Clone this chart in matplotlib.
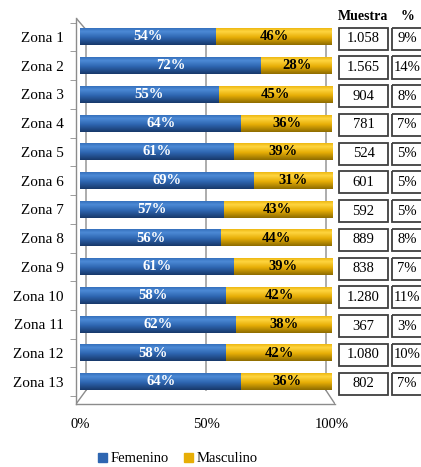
import numpy as np
import matplotlib
matplotlib.use("Agg")
import matplotlib.pyplot as plt
from matplotlib.colors import LinearSegmentedColormap
from matplotlib.patches import Rectangle, Patch
import matplotlib.transforms as mtransforms

plt.rcParams['font.family'] = ['Liberation Serif', 'DejaVu Serif']

# datos
zonas = ['Zona %d' % i for i in range(1, 14)]
femenino = [54, 72, 55, 64, 61, 69, 57, 56, 61, 58, 62, 58, 64]
masculino = [46, 28, 45, 36, 39, 31, 43, 44, 39, 42, 38, 42, 36]
muestra = ['1.058', '1.565', '904', '781', '524', '601', '592', '889', '838',
           '1.280', '367', '1.080', '802']
porcentaje = ['9%', '14%', '8%', '7%', '5%', '5%', '5%', '8%', '7%', '11%', '3%', '10%', '7%']
ticks = [0, 50, 100]

fig = plt.figure(figsize=(4.21, 4.67), dpi=100)
ax = fig.add_axes([76 / 421, (467 - 404) / 467, 259 / 421, 386 / 467])

n = len(zonas)
y = np.arange(1, n + 1)
alto = 0.58

cm_azul = LinearSegmentedColormap.from_list('azul', [(0, '#3670BC'), (0.2, '#4C8AD6'), (0.55, '#2E66B1'), (1, '#17386A')])
cm_oro = LinearSegmentedColormap.from_list('oro', [(0, '#EDB812'), (0.2, '#FFD53F'), (0.55, '#E7AE06'), (1, '#8E6C00')])
grad = np.linspace(0, 1, 64).reshape(-1, 1)

# fondo 3D: lineas de la pared de atras
def atras(t):
    return 50 + (t - 50) * 0.95

y_top, y_fondo = 0.76, 13.28
for t in ticks:
    ax.plot([atras(t), atras(t)], [y_top, y_fondo], color='#A6A6A6', lw=1.3, zorder=1)
ax.plot([-1.6, atras(0)], [0.34, y_top], color='#8C8C8C', lw=1.0, zorder=1)
ax.plot([-1.6, atras(0)], [13.77, y_fondo], color='#8C8C8C', lw=1.0, zorder=1)
ax.plot([101.2, atras(100)], [13.77, y_fondo], color='#8C8C8C', lw=1.0, zorder=1)

for i in range(n):
    yc = y[i]
    # femenino
    ax.imshow(grad, cmap=cm_azul, aspect='auto', interpolation='bilinear',
              extent=(0, femenino[i], yc + alto / 2, yc - alto / 2), zorder=3)
    # masculino
    ax.imshow(grad, cmap=cm_oro, aspect='auto', interpolation='bilinear',
              extent=(femenino[i], femenino[i] + masculino[i], yc + alto / 2, yc - alto / 2), zorder=3)
    ax.text(femenino[i] / 2, yc, '%d%%' % femenino[i], ha='center', va='center',
            color='white', fontsize=10.5, fontweight='bold', zorder=4)
    ax.text(femenino[i] + masculino[i] / 2, yc, '%d%%' % masculino[i], ha='center', va='center',
            color='black', fontsize=10.5, fontweight='bold', zorder=4)

ax.set_xlim(-1.6, 101.2)
ax.set_ylim(13.77, 0.34)
ax.set_yticks(y)
ax.set_yticklabels(zonas, fontsize=11)
ax.set_yticks(np.arange(0.5, n + 1, 1), minor=True)
ax.tick_params(axis='y', which='major', length=0, pad=9)
ax.tick_params(axis='y', which='minor', length=4, color='#8C8C8C', direction='out')
ax.set_xticks(ticks)
ax.set_xticklabels(['%d%%' % t for t in ticks], fontsize=10.5)
ax.tick_params(axis='x', length=0, pad=10)
for s in ['top', 'right']:
    ax.spines[s].set_visible(False)
for s in ['left', 'bottom']:
    ax.spines[s].set_color('#8C8C8C')
    ax.spines[s].set_linewidth(1.0)

# tabla de la derecha
tr = mtransforms.blended_transform_factory(fig.transFigure, ax.transData)
fig.text(363 / 421, 1 - 17 / 467, 'Muestra', ha='center', va='center', fontsize=10, fontweight='bold')
fig.text(407 / 421, 1 - 17 / 467, '%', ha='center', va='center', fontsize=10, fontweight='bold')
caja = 0.77
for i in range(n):
    yc = y[i] + 0.06
    ax.add_patch(Rectangle((339 / 421, yc - caja / 2), 49 / 421, caja, transform=tr,
                           fill=False, ec='#3F3F3F', lw=1.3, clip_on=False))
    ax.add_patch(Rectangle((392 / 421, yc - caja / 2), 40 / 421, caja, transform=tr,
                           fill=False, ec='#3F3F3F', lw=1.3, clip_on=False))
    ax.text(363.5 / 421, yc, muestra[i], transform=tr, ha='center', va='center', fontsize=10.5)
    ax.text(407 / 421, yc, porcentaje[i], transform=tr, ha='center', va='center', fontsize=10.5)

handles = [Patch(color='#2E66B1'), Patch(color='#E7AE06')]
fig.legend(handles, ['Femenino', 'Masculino'], loc='center', bbox_to_anchor=(178 / 421, 8 / 467),
           ncol=2, frameon=False, fontsize=10.5, handlelength=0.6, handleheight=0.6,
           handletextpad=0.3, columnspacing=1.0)

fig.savefig('out.png', dpi=100)
